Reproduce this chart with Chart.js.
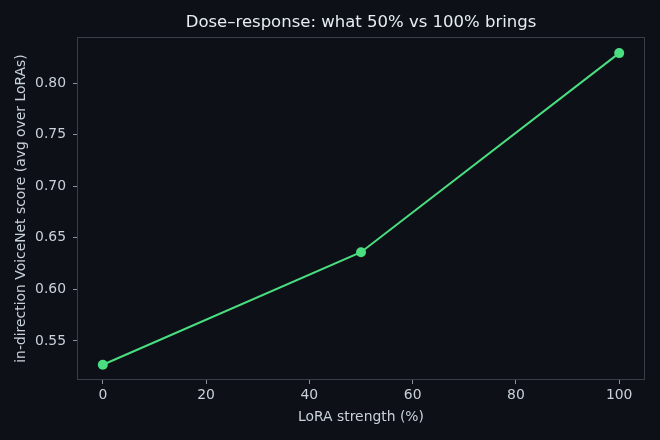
<!DOCTYPE html>
<html><head><meta charset="utf-8">
<script src="https://cdn.jsdelivr.net/npm/chart.js@4.4.1/dist/chart.umd.min.js"></script>
<style>html,body{margin:0;padding:0;background:#0d1117;}#wrap{width:660px;height:440px;}</style>
</head><body><div id="wrap"><canvas id="c" width="660" height="440"></canvas></div>
<script>
const strengths = [0, 50, 100];
const scores = [0.527, 0.636, 0.829];
const xTicks = [0, 20, 40, 60, 80, 100];
const yTicks = [0.55, 0.60, 0.65, 0.70, 0.75, 0.80];
const titleText = 'Dose\u2013response: what 50% vs 100% brings';
const xLabel = 'LoRA strength (%)';
const yLabel = 'in-direction VoiceNet score (avg over LoRAs)';

const FONT = "'DejaVu Sans', sans-serif";
const TXT = '#c9d1d9';
const AX = '#3a3f47';

const framePlugin = {
  id: 'frame',
  beforeDraw(chart) {
    const ctx = chart.ctx;
    ctx.save();
    ctx.fillStyle = '#0d1117';
    ctx.fillRect(0, 0, chart.width, chart.height);
    ctx.restore();
  },
  afterDraw(chart) {
    const a = chart.chartArea, ctx = chart.ctx;
    const cx = (a.left + a.right) / 2, cy = (a.top + a.bottom) / 2;
    ctx.save();
    ctx.strokeStyle = AX;
    ctx.lineWidth = 1;
    ctx.strokeRect(a.left + 0.5, a.top + 0.5, a.right - a.left - 1, a.bottom - a.top - 1);
    ctx.textAlign = 'center';
    ctx.textBaseline = 'middle';
    ctx.fillStyle = '#e6edf3';
    ctx.font = "16.5px " + FONT;
    ctx.fillText(titleText, cx, 23);
    ctx.fillStyle = TXT;
    ctx.font = "13.9px " + FONT;
    ctx.fillText(xLabel, cx, 417);
    ctx.translate(21, cy);
    ctx.rotate(-Math.PI / 2);
    ctx.fillText(yLabel, 0, 0);
    ctx.restore();
  }
};

new Chart(document.getElementById('c'), {
  type: 'line',
  data: {
    datasets: [{
      data: strengths.map((x, i) => ({x: x, y: scores[i]})),
      borderColor: '#4ade80',
      backgroundColor: '#4ade80',
      borderWidth: 2,
      pointRadius: 5,
      pointHoverRadius: 5,
      pointBorderWidth: 0,
      tension: 0,
      fill: false
    }]
  },
  options: {
    responsive: false,
    animation: false,
    devicePixelRatio: 1,
    layout: {padding: {left: 0, right: 15, top: 37, bottom: 0}},
    plugins: {legend: {display: false}, tooltip: {enabled: false}, title: {display: false}},
    scales: {
      x: {
        type: 'linear',
        min: -5, max: 105,
        afterBuildTicks(s) { s.ticks = xTicks.map(v => ({value: v})); },
        afterFit(s) { s.height = 60; },
        grid: {display: true, drawOnChartArea: false, drawTicks: true, tickLength: 4, color: AX, tickColor: '#8b949e'},
        border: {display: false},
        ticks: {color: TXT, font: {family: FONT, size: 13.9}, padding: 3, maxRotation: 0,
          callback: v => String(v)},
        title: {display: false}
      },
      y: {
        type: 'linear',
        min: 0.5122, max: 0.8446,
        afterBuildTicks(s) { s.ticks = yTicks.map(v => ({value: v})); },
        afterFit(s) { s.width = 77; },
        grid: {display: true, drawOnChartArea: false, drawTicks: true, tickLength: 4, color: AX, tickColor: '#8b949e'},
        border: {display: false},
        ticks: {color: TXT, font: {family: FONT, size: 13.9}, padding: 7,
          callback: v => v.toFixed(2)},
        title: {display: false}
      }
    }
  },
  plugins: [framePlugin]
});
</script></body></html>
